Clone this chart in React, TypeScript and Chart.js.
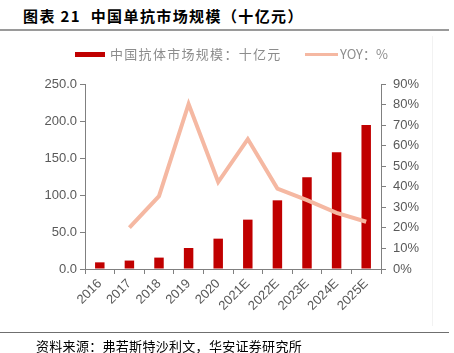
import React, { useEffect, useRef } from "react";
import { Chart, registerables } from "chart.js";

Chart.register(...registerables);

const categories = ["2016", "2017", "2018", "2019", "2020", "2021E", "2022E", "2023E", "2024E", "2025E"];
const marketSize = [9.0, 11.4, 15.4, 28.4, 41.0, 66.7, 92.8, 124.0, 157.7, 194.5];
const yoy = [null, 20.1, 35.4, 80.3, 42.3, 63.2, 39.1, 33.5, 27.3, 23.0];
const leftTicks = [0, 50, 100, 150, 200, 250];
const rightTicks = [0, 10, 20, 30, 40, 50, 60, 70, 80, 90];

const barName = "中国抗体市场规模：十亿元";
const lineName = "YOY：%";
const titleText = "图表 21  中国单抗市场规模（十亿元）";
const sourceText = "资料来源：弗若斯特沙利文，华安证券研究所";

const BAR_COLOR = "#C00000";
const LINE_COLOR = "#F5B8A2";
const AXIS_COLOR = "#808080";
const TICK_COLOR = "#595959";

export default function App() {
  const ref = useRef<HTMLCanvasElement | null>(null);

  useEffect(() => {
    document.body.style.margin = "0";
    const canvas = ref.current;
    if (!canvas) return;
    const tickFont = { family: "'Liberation Sans', Arial, sans-serif", size: 13 };
    const chart = new Chart(canvas, {
      data: {
        labels: categories,
        datasets: [
          {
            type: "line",
            label: lineName,
            data: yoy,
            yAxisID: "y1",
            borderColor: LINE_COLOR,
            backgroundColor: LINE_COLOR,
            borderWidth: 4,
            pointRadius: 0,
            tension: 0,
            spanGaps: false,
            order: 0,
          },
          {
            type: "bar",
            label: barName,
            data: marketSize,
            yAxisID: "y",
            backgroundColor: BAR_COLOR,
            borderWidth: 0,
            categoryPercentage: 1,
            barPercentage: 0.32,
            order: 1,
          },
        ],
      },
      options: {
        responsive: false,
        animation: false,
        devicePixelRatio: 1,
        layout: { padding: { top: 84, left: 0, right: 0, bottom: 0 } },
        plugins: { legend: { display: false }, tooltip: { enabled: false }, title: { display: false } },
        scales: {
          x: {
            type: "category",
            offset: true,
            grid: { offset: true, drawOnChartArea: false, drawTicks: true, tickLength: 5, color: AXIS_COLOR },
            border: { color: AXIS_COLOR, width: 1 },
            ticks: { color: TICK_COLOR, font: tickFont, minRotation: 45, maxRotation: 45, padding: 2, autoSkip: false },
            afterFit: (s: any) => { s.height = 84; },
          },
          y: {
            position: "left",
            min: 0,
            max: 250,
            afterBuildTicks: (s: any) => { s.ticks = leftTicks.map((v) => ({ value: v })); },
            grid: { drawOnChartArea: false, drawTicks: true, tickLength: 5, color: AXIS_COLOR },
            border: { color: AXIS_COLOR, width: 1 },
            ticks: { color: TICK_COLOR, font: tickFont, padding: 3, callback: (v: any) => Number(v).toFixed(1) },
            afterFit: (s: any) => { s.width = 85; },
          },
          y1: {
            position: "right",
            min: 0,
            max: 90,
            afterBuildTicks: (s: any) => { s.ticks = rightTicks.map((v) => ({ value: v })); },
            grid: { drawOnChartArea: false, drawTicks: true, tickLength: 5, color: AXIS_COLOR },
            border: { color: AXIS_COLOR, width: 1 },
            ticks: { color: TICK_COLOR, font: tickFont, padding: 7, callback: (v: any) => `${v}%` },
            afterFit: (s: any) => { s.width = 73; },
          },
        },
      },
    } as any);
    return () => chart.destroy();
  }, []);

  const cjk = "'Noto Sans CJK SC', 'Noto Sans', sans-serif";
  return (
    <div style={{ position: "relative", width: 454, height: 353, background: "#fff", overflow: "hidden" }}>
      <div style={{ position: "absolute", left: 23, top: 5, fontFamily: cjk, fontWeight: 700, fontSize: 15, letterSpacing: 1.4, lineHeight: "22px", color: "#000", whiteSpace: "pre" }}>
        {titleText}
      </div>
      <div style={{ position: "absolute", left: 0, top: 29, width: 449, height: 2, background: "#9a9a9a" }} />
      <div style={{ position: "absolute", left: 432, top: 36, width: 1, height: 290, background: "#f2f2f2" }} />
      <canvas ref={ref} width={454} height={353} style={{ position: "absolute", left: 0, top: 0, width: 454, height: 353 }} />
      <div style={{ position: "absolute", left: 75, top: 52, width: 30, height: 5, background: BAR_COLOR }} />
      <div style={{ position: "absolute", left: 110, top: 44, fontFamily: cjk, fontSize: 13, letterSpacing: 1.3, lineHeight: "20px", color: "#8c8c8c", whiteSpace: "pre" }}>
        {barName}
      </div>
      <div style={{ position: "absolute", left: 305, top: 53, width: 33, height: 3, background: LINE_COLOR }} />
      <div style={{ position: "absolute", left: 340, top: 44, fontFamily: cjk, fontSize: 13, letterSpacing: 0, lineHeight: "20px", color: "#8c8c8c", whiteSpace: "pre" }}>
        {lineName}
      </div>
      <div style={{ position: "absolute", left: 0, top: 332, width: 449, height: 1, background: "#6f6f6f" }} />
      <div style={{ position: "absolute", left: 36, top: 337, fontFamily: cjk, fontSize: 13, letterSpacing: 0.3, lineHeight: "18px", color: "#000", whiteSpace: "pre" }}>
        {sourceText}
      </div>
    </div>
  );
}
